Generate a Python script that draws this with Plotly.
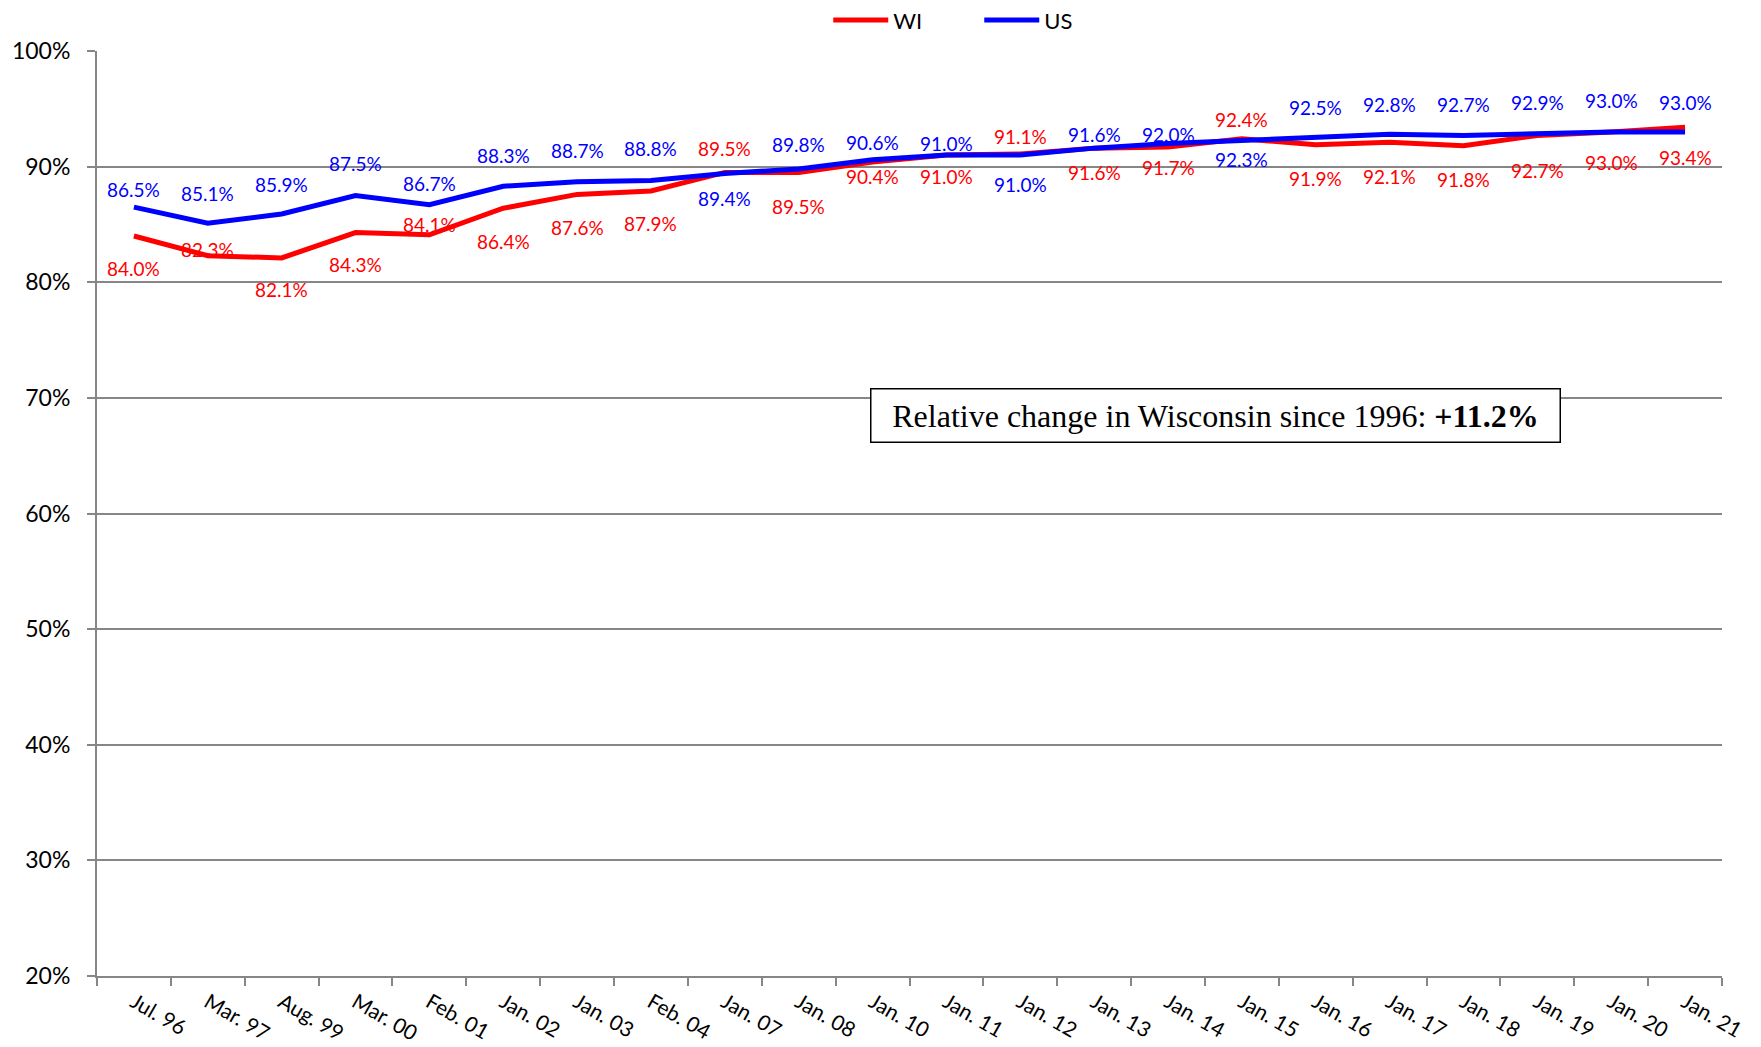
import plotly.graph_objects as go

# survey dates
dates = ["Jul. 96", "Mar. 97", "Aug. 99", "Mar. 00", "Feb. 01", "Jan. 02", "Jan. 03",
         "Feb. 04", "Jan. 07", "Jan. 08", "Jan. 10", "Jan. 11", "Jan. 12", "Jan. 13",
         "Jan. 14", "Jan. 15", "Jan. 16", "Jan. 17", "Jan. 18", "Jan. 19", "Jan. 20", "Jan. 21"]

wi = [84.0, 82.3, 82.1, 84.3, 84.1, 86.4, 87.6, 87.9, 89.5, 89.5, 90.4,
      91.0, 91.1, 91.6, 91.7, 92.4, 91.9, 92.1, 91.8, 92.7, 93.0, 93.4]
us = [86.5, 85.1, 85.9, 87.5, 86.7, 88.3, 88.7, 88.8, 89.4, 89.8, 90.6,
      91.0, 91.0, 91.6, 92.0, 92.3, 92.5, 92.8, 92.7, 92.9, 93.0, 93.0]

# vertical shift (px) of each data label from its point, + is above
wi_shift = [-32, 6, -32, -32, 10, -33, -33, -33, 24, -34, -14,
            -21, 17, -24, -21, 19, -34, -34, -34, -35, -31, -30]
us_shift = [18, 30, 30, 32, 21, 31, 31, 32, -25, 24, 17,
            12, -29, 14, 9, -19, 30, 30, 31, 31, 31, 29]

SANS = "Lato, 'Open Sans', sans-serif"
PAGE_PAD = 8  # default body margin of the html page

fig = go.Figure()

series = [("WI", wi, wi_shift, "#ff0000"), ("US", us, us_shift, "#0000ff")]
for name, vals, shifts, color in series:
    fig.add_trace(go.Scatter(
        x=dates, y=vals, name=name, mode="lines",
        line=dict(color=color, width=5),
    ))

# data labels
for name, vals, shifts, color in series:
    for d, v, s in zip(dates, vals, shifts):
        fig.add_annotation(
            x=d, y=v, yshift=s, text=f"{v:.1f}%", showarrow=False,
            xanchor="center", yanchor="middle",
            font=dict(family=SANS, size=19, color=color),
        )

fig.add_annotation(
    xref="paper", yref="y", x=0.6886, y=68.5,
    xanchor="center", yanchor="middle",
    text="Relative change in Wisconsin since 1996: <b>+11.2%</b>",
    showarrow=False, width=680, height=44, align="center",
    font=dict(family="'Liberation Serif', 'Times New Roman', serif", size=32, color="black"),
    bordercolor="black", borderwidth=1.5, borderpad=4, bgcolor="white",
)

fig.update_layout(
    width=1761, height=1047,
    paper_bgcolor="white", plot_bgcolor="white",
    margin=dict(l=97 - PAGE_PAD, r=39 + PAGE_PAD, t=51 - PAGE_PAD, b=71 + PAGE_PAD, autoexpand=False),
    font=dict(family=SANS, color="black"),
    showlegend=True,
    legend=dict(orientation="h", x=0.45, xanchor="left", y=1.056, yanchor="top",
                font=dict(size=22), entrywidth=81, itemwidth=55),
)

fig.update_xaxes(
    type="category", range=[-0.5, len(dates) - 0.5],
    showgrid=False, showline=True, linecolor="#868686", linewidth=2,
    ticks="outside", tickson="boundaries", ticklen=8, tickcolor="#868686", tickwidth=1.5,
    tickangle=30, tickfont=dict(size=21), ticklabelstandoff=4,
)
fig.update_yaxes(
    range=[20, 100], dtick=10, ticksuffix="%",
    showgrid=True, gridcolor="#868686", gridwidth=2,
    showline=True, linecolor="#868686", linewidth=2,
    ticks="outside", ticklen=8, tickcolor="#868686", tickwidth=2,
    tickfont=dict(size=23), ticklabelstandoff=12,
    zeroline=False,
)

fig.write_html("out.html")
